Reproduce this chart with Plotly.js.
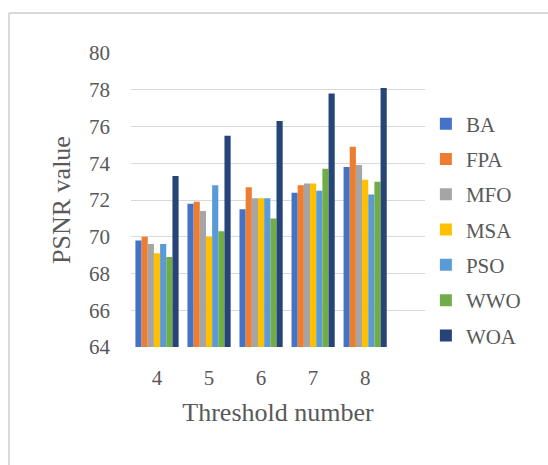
<!DOCTYPE html>
<html>
<head>
<meta charset="utf-8">
<script src="https://cdn.plot.ly/plotly-3.0.1.min.js"></script>
<style>
  html, body { margin: 0; padding: 0; background: #fff; }
  #chart { width: 548px; height: 465px; }
</style>
</head>
<body>
<div id="chart"></div>
<script>
// Threshold numbers on the x axis
const thresholds = ['4', '5', '6', '7', '8'];

// PSNR values per algorithm
const BA  = [69.8, 71.8, 71.5, 72.4, 73.8];
const FPA = [70.0, 71.9, 72.7, 72.8, 74.9];
const MFO = [69.6, 71.4, 72.1, 72.9, 73.9];
const MSA = [69.1, 70.0, 72.1, 72.9, 73.1];
const PSO = [69.6, 72.8, 72.1, 72.5, 72.3];
const WWO = [68.9, 70.3, 71.0, 73.7, 73.0];
const WOA = [73.3, 75.5, 76.3, 77.8, 78.1];

const seriesNames = ['BA', 'FPA', 'MFO', 'MSA', 'PSO', 'WWO', 'WOA'];
const seriesValues = [BA, FPA, MFO, MSA, PSO, WWO, WOA];
const seriesColors = ['#4472C4', '#ED7D31', '#A5A5A5', '#FFC000', '#5B9BD5', '#70AD47', '#264478'];

const textFont = '"Liberation Serif", "Times New Roman", serif';
const textColor = '#595959';

const traces = seriesNames.map((name, i) => ({
  type: 'bar',
  name: name,
  x: thresholds,
  y: seriesValues[i],
  legendgroup: name,
  marker: { color: seriesColors[i], line: { width: 0 } },
  hoverinfo: 'x+y+name'
}));

const layout = {
  width: 548,
  height: 465,
  paper_bgcolor: '#ffffff',
  plot_bgcolor: '#ffffff',
  margin: { l: 131, r: 123, t: 53, b: 118 },
  barmode: 'group',
  bargap: 0.17,
  bargroupgap: 0,
  showlegend: true,
  legend: {
    x: 1.003, xanchor: 'left',
    y: 0.398, yanchor: 'middle',
    font: { family: textFont, size: 21, color: textColor },
    tracegroupgap: 5,
    itemwidth: 30,
    bgcolor: 'rgba(0,0,0,0)'
  },
  xaxis: {
    type: 'category',
    range: [-0.5, 5.15],
    tickfont: { family: textFont, size: 21, color: textColor },
    ticks: '',
    showgrid: false,
    showline: false,
    zeroline: false,
    ticklabelstandoff: 16,
    title: {
      text: 'Threshold number',
      font: { family: textFont, size: 26, color: textColor },
      standoff: 13
    }
  },
  yaxis: {
    range: [64, 80],
    dtick: 2,
    tick0: 64,
    tickfont: { family: textFont, size: 21, color: textColor },
    ticks: '',
    showgrid: true,
    gridcolor: '#d9d9d9',
    gridwidth: 1,
    showline: false,
    zeroline: false,
    ticklabelstandoff: 20,
    title: {
      text: 'PSNR value',
      font: { family: textFont, size: 26, color: textColor },
      standoff: 10
    }
  },
  shapes: [
    // frame lines along the top and left edge of the chart area
    { type: 'line', xref: 'paper', yref: 'paper', x0: -0.415, x1: 1.5, y0: 1.136, y1: 1.136,
      line: { color: '#d9d9d9', width: 2 } },
    { type: 'line', xref: 'paper', yref: 'paper', x0: -0.415, x1: -0.415, y0: 1.136, y1: -0.5,
      line: { color: '#d9d9d9', width: 2 } }
  ]
};

Plotly.newPlot('chart', traces, layout, { displayModeBar: false, staticPlot: true });
</script>
</body>
</html>
